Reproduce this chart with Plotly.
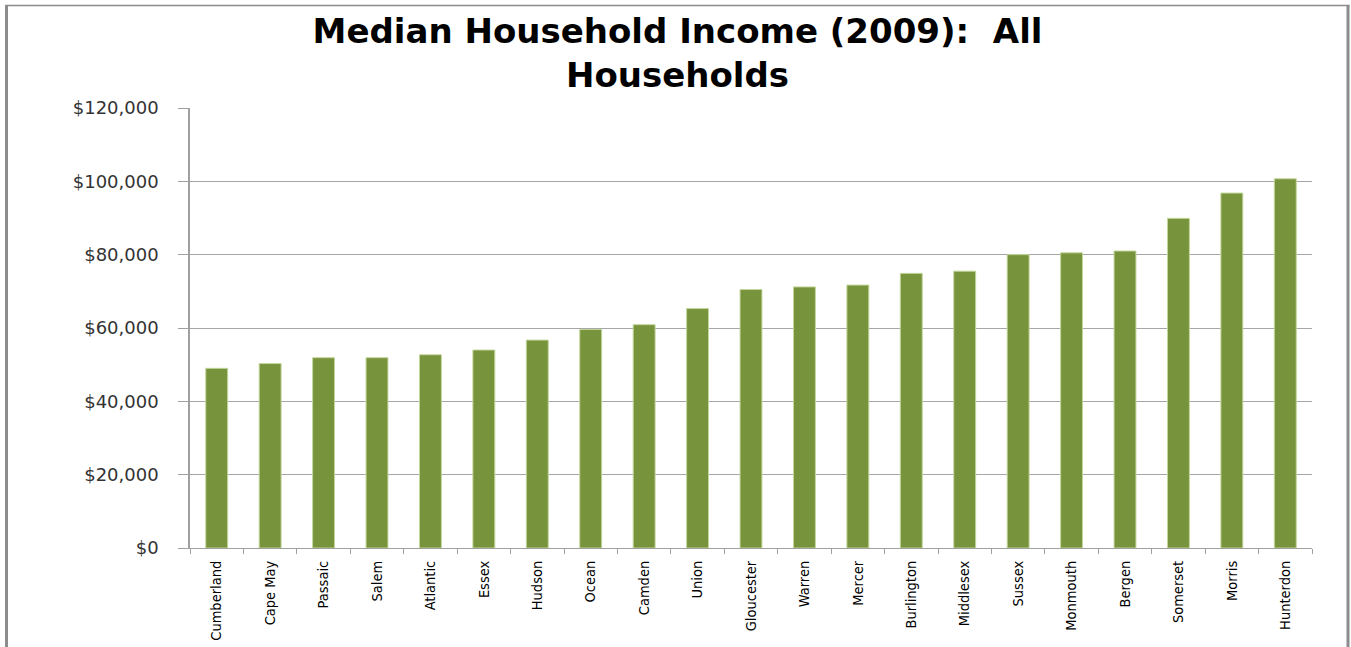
import plotly.graph_objects as go

counties = ["Cumberland", "Cape May", "Passaic", "Salem", "Atlantic", "Essex", "Hudson",
            "Ocean", "Camden", "Union", "Gloucester", "Warren", "Mercer", "Burlington",
            "Middlesex", "Sussex", "Monmouth", "Bergen", "Somerset", "Morris", "Hunterdon"]
income = [49000, 50300, 51900, 51900, 52700, 54000, 56700,
          59600, 60900, 65300, 70500, 71200, 71700, 74900,
          75500, 80000, 80500, 81000, 89900, 96800, 100700]

y_ticks = [0, 20000, 40000, 60000, 80000, 100000, 120000]
y_labels = ["$0", "$20,000", "$40,000", "$60,000", "$80,000", "$100,000", "$120,000"]

W, H = 1351, 647
L, R, T, B = 190, 1312, 108, 548

fig = go.Figure(go.Bar(
    x=counties, y=income,
    marker=dict(color="#77933C", line=dict(color="#C3D69B", width=1)),
    hoverinfo="x+y",
))

def px_x(p):
    return (p - L) / (R - L)

def px_y(p):
    return (B - p) / (B - T)

frame_color = "#8C8C8C"
shapes = [
    dict(type="line", xref="paper", yref="paper", x0=px_x(6.5), x1=px_x(6.5), y0=px_y(5), y1=px_y(660),
         line=dict(color=frame_color, width=3)),
    dict(type="line", xref="paper", yref="paper", x0=px_x(1348), x1=px_x(1348), y0=px_y(5), y1=px_y(660),
         line=dict(color=frame_color, width=3)),
    dict(type="line", xref="paper", yref="paper", x0=px_x(5), x1=px_x(1349.5), y0=px_y(5.5), y1=px_y(5.5),
         line=dict(color=frame_color, width=1.5)),
]

fig.update_layout(
    width=W, height=H,
    margin=dict(l=L, r=W - R, t=T, b=H - B, pad=0, autoexpand=False),
    paper_bgcolor="white", plot_bgcolor="white",
    title=dict(text="Median Household Income (2009):  All<br>Households",
               font=dict(family="DejaVu Sans", size=34, color="black", weight="bold"),
               x=0.5 + 2 / W, xanchor="center", xref="container",
               y=1 - 43 / H, yanchor="middle", yref="container"),
    showlegend=False,
    bargap=0.59,
    shapes=shapes,
    xaxis=dict(
        type="category",
        tickangle=-90,
        tickfont=dict(family="DejaVu Sans Condensed, Liberation Sans, sans-serif", size=14.5, color="black"),
        showline=True, linecolor="#A0A0A0", linewidth=1,
        ticks="outside", tickson="boundaries", ticklen=5, tickcolor="#A0A0A0",
        showgrid=False,
        ticklabelstandoff=6,
        automargin=False,
    ),
    yaxis=dict(
        range=[0, 120000],
        tickvals=y_ticks, ticktext=y_labels,
        tickfont=dict(family="DejaVu Sans", size=18, color="#333333"),
        showline=True, linecolor="#A0A0A0", linewidth=1.5,
        ticks="outside", ticklen=10, tickcolor="#A0A0A0",
        showgrid=True, gridcolor="#A6A6A6", gridwidth=1,
        zeroline=False,
        ticklabelstandoff=16,
        automargin=False,
    ),
)

fig.write_html("out.html", config={"displayModeBar": False},
               post_script="document.body.style.margin='0px';document.body.style.overflow='hidden';")
